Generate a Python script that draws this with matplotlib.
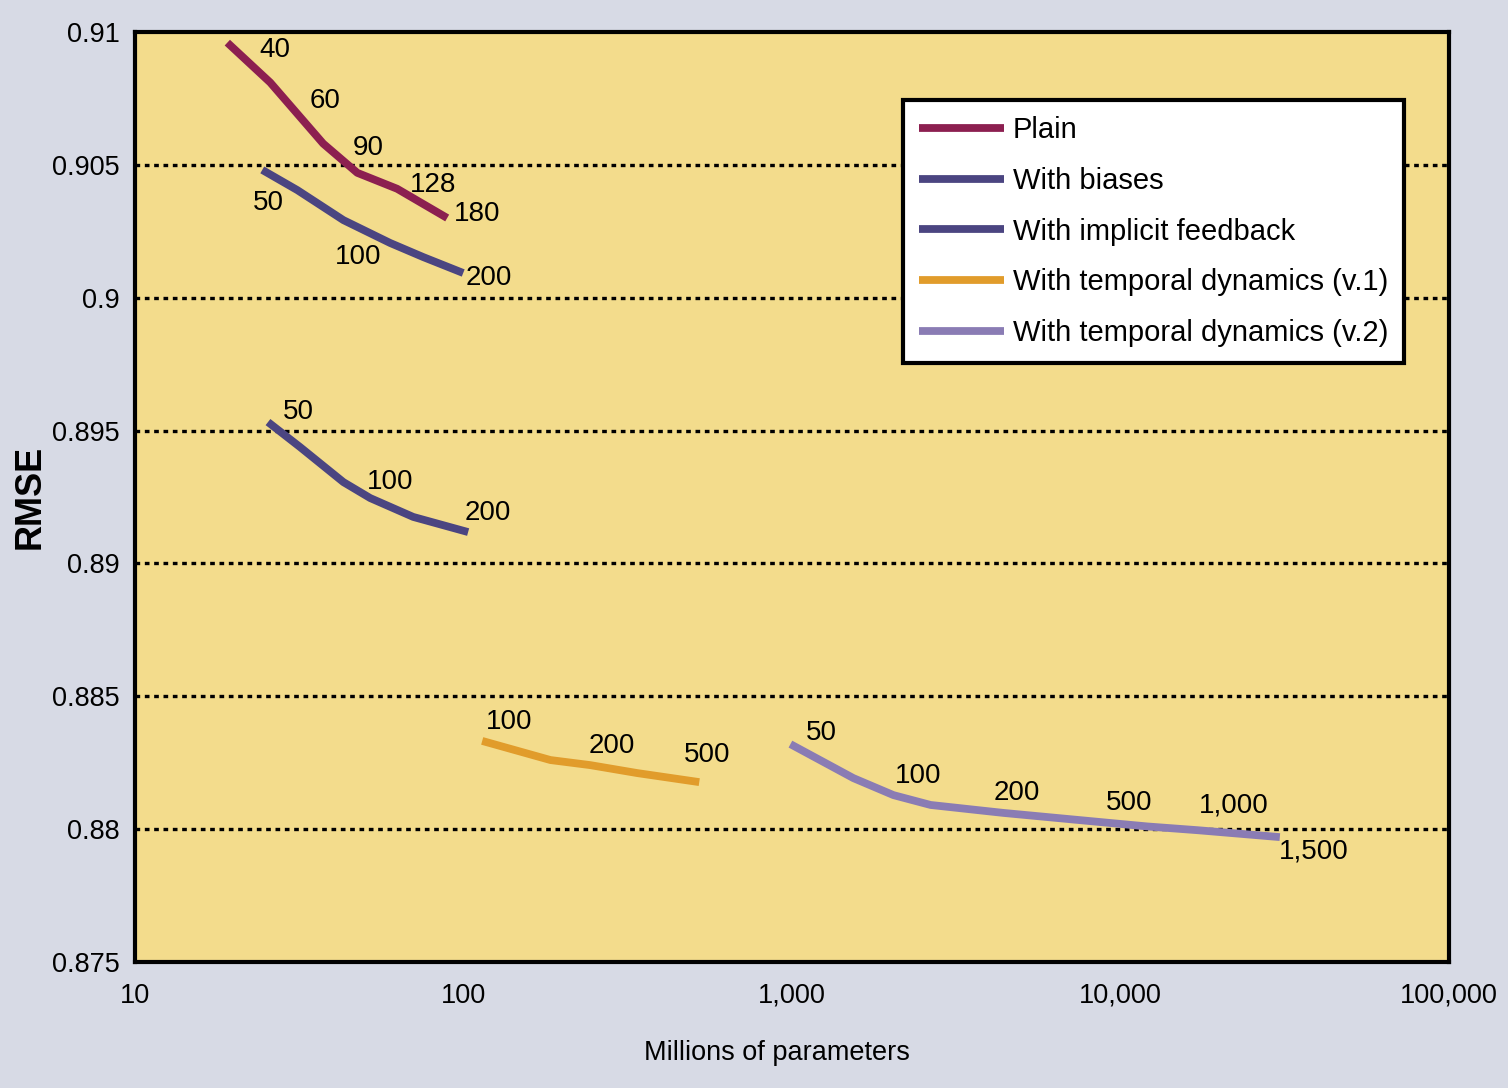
import numpy as np
import matplotlib.pyplot as plt
from matplotlib.ticker import FixedLocator, FuncFormatter, NullLocator

plt.rcParams['font.family'] = ['Liberation Sans', 'DejaVu Sans']

# data: millions of parameters vs RMSE
plain_x = [19.1, 25.8, 37.4, 47.5, 62.8, 89.2]
plain_y = [0.9096, 0.9081, 0.9058, 0.9047, 0.9041, 0.9030]

bias_x = [24.4, 31.2, 43.1, 59.8, 75.4, 99.8]
bias_y = [0.90481, 0.90405, 0.90292, 0.90206, 0.90153, 0.90093]

impl_x = [25.4, 31.8, 43.1, 52.0, 70.3, 103.3]
impl_y = [0.89532, 0.89438, 0.89306, 0.89246, 0.89175, 0.89118]

tv1_x = [114, 184, 243, 338, 522]
tv1_y = [0.88332, 0.88260, 0.88241, 0.88211, 0.88177]

tv2_x = [989, 1538, 2037, 2642, 4408, 9333, 12100, 17180, 30550]
tv2_y = [0.8832, 0.88192, 0.88128, 0.88091, 0.88061, 0.88023, 0.88010, 0.87996, 0.87970]

series_names = ['Plain', 'With biases', 'With implicit feedback',
                'With temporal dynamics (v.1)', 'With temporal dynamics (v.2)']
colors = ['#8c1f50', '#4b4581', '#4b4581', '#e19c2b', '#8a7cb4']

# factor-count labels on the curves (text, pixel centre in the figure)
factor_labels = [
    ('40', 275, 50), ('60', 325, 101), ('90', 368, 148), ('128', 433, 185), ('180', 477, 214),
    ('50', 268, 203), ('100', 358, 257), ('200', 489, 278),
    ('50', 298, 412), ('100', 390, 482), ('200', 488, 513),
    ('100', 509, 722), ('200', 612, 746), ('500', 707, 755),
    ('50', 821, 733), ('100', 918, 776), ('200', 1017, 793), ('500', 1129, 803),
    ('1,000', 1234, 805), ('1,500', 1314, 852),
]

x_ticks = [10, 100, 1000, 10000, 100000]
y_ticks = [0.875, 0.88, 0.885, 0.89, 0.895, 0.9, 0.905, 0.91]
y_ticklabels = ['0.875', '0.88', '0.885', '0.89', '0.895', '0.9', '0.905', '0.91']

W, H = 1508, 1088
fig = plt.figure(figsize=(W / 100, H / 100), dpi=100)
fig.patch.set_facecolor('#d7dae5')
ax = fig.add_axes([135 / W, 1 - 962 / H, (1449 - 135) / W, (962 - 32) / H])
ax.set_facecolor('#f3dc8c')

ax.set_xscale('log')
ax.set_xlim(10, 100000)
ax.set_ylim(0.875, 0.91)

for yv in y_ticks[1:-1]:
    ax.axhline(yv, color='black', lw=2.4, ls=(0, (1.4, 1.4)), zorder=1)

all_x = [plain_x, bias_x, impl_x, tv1_x, tv2_x]
all_y = [plain_y, bias_y, impl_y, tv1_y, tv2_y]
for xs, ys, name, c in zip(all_x, all_y, series_names, colors):
    ax.plot(xs, ys, color=c, lw=5.6, solid_capstyle='butt', solid_joinstyle='round',
            label=name, zorder=3)

for txt, px, py in factor_labels:
    fig.text(px / W, 1 - py / H, txt, ha='center', va='center', fontsize=20)

ax.xaxis.set_major_locator(FixedLocator(x_ticks))
ax.xaxis.set_minor_locator(NullLocator())
ax.xaxis.set_major_formatter(FuncFormatter(lambda v, p: f'{int(round(v)):,}'))
ax.set_yticks(y_ticks)
ax.set_yticklabels(y_ticklabels)
ax.tick_params(axis='both', length=0, labelsize=19.5)
ax.tick_params(axis='x', pad=15)
ax.tick_params(axis='y', pad=11)

for s in ax.spines.values():
    s.set_linewidth(3)
    s.set_color('black')

ax.set_xlabel('Millions of parameters', fontsize=19.5)
ax.xaxis.set_label_coords((777 - 135) / 1314, -(1053 - 962) / 930)
ax.xaxis.label.set_va('center')
ax.set_ylabel('RMSE', fontsize=26, fontweight='bold')
ax.yaxis.set_label_coords(-(135 - 30) / 1314, 0.5)
ax.yaxis.label.set_va('center')

leg = ax.legend(loc='upper right', bbox_to_anchor=(1404 / W, 1 - 100 / H),
                bbox_transform=fig.transFigure, fontsize=21, frameon=True,
                fancybox=False, handlelength=2.9, handletextpad=0.3,
                labelspacing=0.78, borderpad=0.55, borderaxespad=0)
leg.get_frame().set_edgecolor('black')
leg.get_frame().set_linewidth(3)
leg.get_frame().set_facecolor('white')
leg.get_frame().set_alpha(1)

fig.savefig('out.png', dpi=100, facecolor=fig.get_facecolor())
